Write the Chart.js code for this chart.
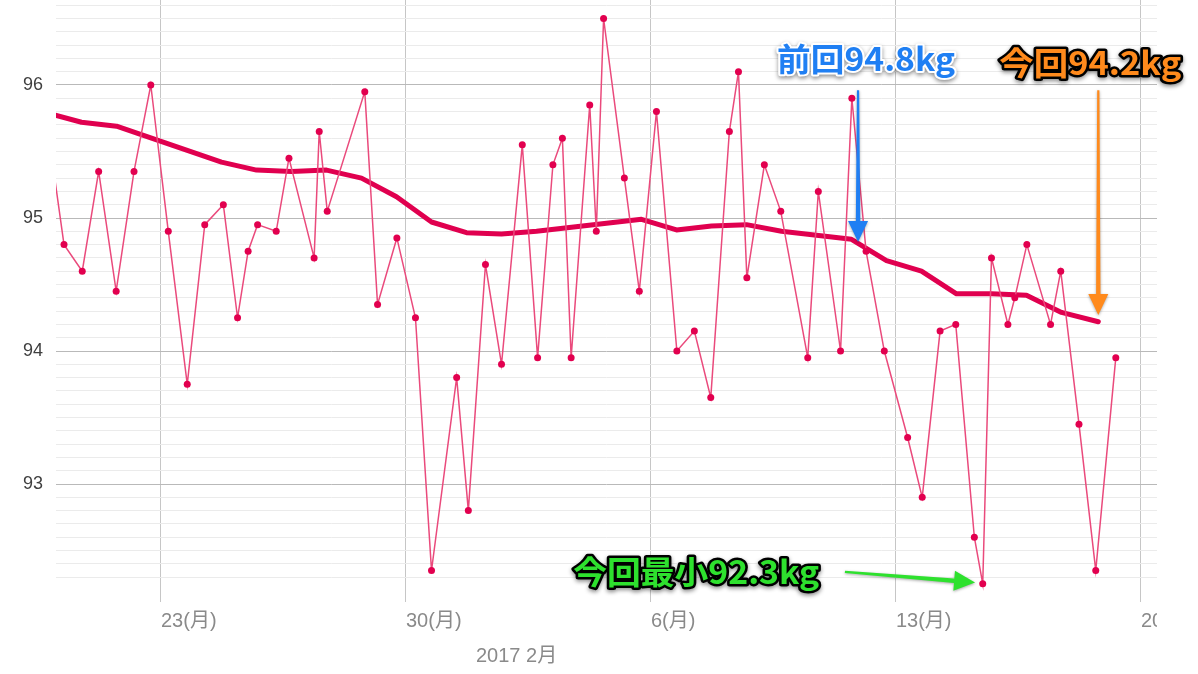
<!DOCTYPE html>
<html lang="ja">
<head>
<meta charset="utf-8">
<title>体重グラフ</title>
<script src="https://cdn.jsdelivr.net/npm/chart.js@4.4.1/dist/chart.umd.min.js"></script>
<style>
  html, body { margin: 0; padding: 0; background: #fff; }
  #holder { display: block; }
</style>
</head>
<body>
<canvas id="holder" width="1198" height="674"></canvas>
<script>
"use strict";

// weigh-ins (M/D HH:MM) and weight in kg
const readingTimes = [
  "1/19 18:00", "1/20 05:30", "1/20 18:00", "1/21 05:15", "1/21 17:15", "1/22 05:30", "1/22 17:00",
  "1/23 05:00", "1/23 18:00", "1/24 06:00", "1/24 18:45", "1/25 04:30", "1/25 11:45", "1/25 18:15",
  "1/26 07:00", "1/26 15:45", "1/27 09:00", "1/27 12:30", "1/27 18:00", "1/28 19:45", "1/29 04:30",
  "1/29 17:45", "1/30 06:30", "1/30 17:30", "1/31 10:45", "1/31 18:45", "2/1 06:30", "2/1 17:30",
  "2/2 07:45", "2/2 18:15", "2/3 04:45", "2/3 11:15", "2/3 17:15", "2/4 06:00", "2/4 10:30",
  "2/4 15:30", "2/5 05:45", "2/5 16:00", "2/6 03:45", "2/6 17:45", "2/7 05:45", "2/7 17:00",
  "2/8 05:45", "2/8 12:00", "2/8 17:45", "2/9 05:45", "2/9 17:00", "2/10 11:30", "2/10 18:45",
  "2/11 10:00", "2/11 17:45", "2/12 03:30", "2/12 16:00", "2/13 08:00", "2/13 18:00", "2/14 06:15",
  "2/14 17:00", "2/15 05:45", "2/15 11:30", "2/15 17:30", "2/16 04:45", "2/16 09:30", "2/16 17:45",
  "2/17 10:00", "2/17 17:00", "2/18 05:30", "2/18 17:00", "2/19 06:45"
];
const readingKg = [
  95.70, 94.80, 94.60, 95.35, 94.45, 95.35, 96.00,
  94.90, 93.75, 94.95, 95.10, 94.25, 94.75, 94.95,
  94.90, 95.45, 94.70, 95.65, 95.05, 95.95, 94.35,
  94.85, 94.25, 92.35, 93.80, 92.80, 94.65, 93.90,
  95.55, 93.95, 95.40, 95.60, 93.95, 95.85, 94.90,
  96.50, 95.30, 94.45, 95.80, 94.00, 94.15, 93.65,
  95.65, 96.10, 94.55, 95.40, 95.05, 93.95, 95.20,
  94.00, 95.90, 94.75, 94.00, 93.35, 92.90, 94.15,
  94.20, 92.60, 92.25, 94.70, 94.20, 94.40, 94.80,
  94.20, 94.60, 93.45, 92.35, 93.95
];

// smoothed trend, one value per evening
const trendTimes = [
  "1/19 17:30", "1/20 17:30", "1/21 17:30", "1/22 17:30", "1/23 17:30", "1/24 17:30", "1/25 17:30",
  "1/26 17:30", "1/27 17:30", "1/28 17:30", "1/29 17:30", "1/30 17:30", "1/31 17:30", "2/1 17:30",
  "2/2 17:30", "2/3 17:30", "2/4 17:30", "2/5 17:30", "2/6 17:30", "2/7 17:30", "2/8 17:30",
  "2/9 17:30", "2/10 17:30", "2/11 17:30", "2/12 17:30", "2/13 17:30", "2/14 17:30", "2/15 17:30",
  "2/16 17:30", "2/17 17:30", "2/18 18:45"
];
const trendKg = [
  95.79, 95.72, 95.69, 95.60, 95.51, 95.42, 95.36,
  95.35, 95.36, 95.30, 95.16, 94.97, 94.89, 94.88,
  94.90, 94.93, 94.96, 94.99, 94.91, 94.94, 94.95,
  94.90, 94.87, 94.84, 94.68, 94.60, 94.43, 94.43,
  94.42, 94.29, 94.22
];

// x axis ticks (Mondays + month start)
const xTickTimes = ["1/23 00:00", "1/30 00:00", "2/1 00:00", "2/6 00:00", "2/13 00:00", "2/20 00:00"];
const xTickLabels = ["23(月)", "30(月)", ["", "2017 2月"], "6(月)", "13(月)", "20(月)"];
const monthTickTime = "2/1 00:00";
const xRange = ["1/20 00:00", "2/20 11:00"];
const yRange = [92.113, 96.639];
const yGridFrom = 92.3;

// M/D HH:MM -> days since 1/20 00:00
function toDay(s) {
  const [md, hm] = s.split(" ");
  const [m, d] = md.split("/").map(Number);
  const [h, mi] = hm.split(":").map(Number);
  return (Date.UTC(2017, m - 1, d, h, mi) - Date.UTC(2017, 0, 20)) / 864e5;
}

const readings = readingTimes.map((t, i) => ({ x: toDay(t), y: readingKg[i] }));
const trend = trendTimes.map((t, i) => ({ x: toDay(t), y: trendKg[i] }));
const monthDay = toDay(monthTickTime);

const LABEL_FONT = "'Liberation Sans', 'Noto Sans CJK JP', sans-serif";
const NOTE_FONT = "'Noto Sans CJK JP', sans-serif";

/**
 * Arrow with a tapering shaft
 */
function drawArrow(ctx, x1, y1, x2, y2, color) {
  const len = Math.hypot(x2 - x1, y2 - y1);
  const headLen = 21, headW = 20;
  ctx.save();
  ctx.translate(x2, y2);
  ctx.rotate(Math.atan2(y2 - y1, x2 - x1));
  ctx.shadowColor = "rgba(0,0,0,0.35)";
  ctx.shadowBlur = 3;
  ctx.shadowOffsetY = 1;
  ctx.fillStyle = color;
  ctx.beginPath();
  ctx.moveTo(0, 0);
  ctx.lineTo(-headLen, -headW / 2);
  ctx.lineTo(-headLen, -2.2);
  ctx.lineTo(-len, -1.1);
  ctx.lineTo(-len, 1.1);
  ctx.lineTo(-headLen, 2.2);
  ctx.lineTo(-headLen, headW / 2);
  ctx.closePath();
  ctx.fill();
  ctx.restore();
}

/**
 * Outlined caption, squeezed/stretched to a given width
 */
function drawNote(ctx, text, cx, cy, width, fill, outline, outlineW) {
  ctx.save();
  ctx.font = "bold 32px " + NOTE_FONT;
  ctx.textAlign = "center";
  ctx.textBaseline = "middle";
  const w = ctx.measureText(text).width;
  ctx.translate(cx, cy);
  ctx.scale(width / w, 1);
  ctx.lineJoin = "round";
  ctx.lineWidth = outlineW;
  ctx.strokeStyle = outline;
  ctx.shadowColor = "rgba(0,0,0,0.45)";
  ctx.shadowBlur = 4;
  ctx.shadowOffsetY = 2;
  ctx.strokeText(text, 0, 0);
  ctx.shadowColor = "transparent";
  ctx.fillStyle = fill;
  ctx.fillText(text, 0, 0);
  ctx.restore();
}

const notesPlugin = {
  id: "notes",
  afterDraw(chart) {
    const { ctx, chartArea, scales: { x, y } } = chart;
    // the last day label is cut at the plot edge
    ctx.clearRect(chartArea.right, chartArea.bottom, chart.width - chartArea.right, chart.height - chartArea.bottom);

    // previous
    const bx = x.getPixelForValue(toDay("2/11 22:00"));
    drawArrow(ctx, bx, y.getPixelForValue(95.96), bx, y.getPixelForValue(94.82), "#1f7ff3");
    drawNote(ctx, "前回94.8kg", bx + 8, y.getPixelForValue(96.2), 178, "#1f7ff3", "#ffffff", 4);

    // latest
    const ox = x.getPixelForValue(toDay("2/18 18:45"));
    drawArrow(ctx, ox, y.getPixelForValue(95.96), ox, y.getPixelForValue(94.27), "#ff8a1c");
    drawNote(ctx, "今回94.2kg", ox - 8, y.getPixelForValue(96.17), 182, "#ff8a1c", "#000000", 5);

    // minimum
    drawArrow(ctx,
      x.getPixelForValue(toDay("2/11 13:00")), y.getPixelForValue(92.34),
      x.getPixelForValue(toDay("2/15 06:15")), y.getPixelForValue(92.26), "#2ee12e");
    drawNote(ctx, "今回最小92.3kg", x.getPixelForValue(toDay("2/7 07:00")), y.getPixelForValue(92.34),
      246, "#2ee12e", "#000000", 5);
  }
};

const HOLDER = document.getElementById("holder");
new Chart(HOLDER, {
  type: "line",
  data: {
    datasets: [
      {
        label: "体重",
        data: readings,
        order: 0,
        borderColor: "#ea4a7c",
        borderWidth: 1.5,
        pointRadius: 3.5,
        pointBackgroundColor: "#e2004f",
        pointBorderWidth: 0,
        tension: 0,
      },
      {
        label: "トレンド",
        data: trend,
        order: 1,
        borderColor: "#e0004f",
        borderWidth: 5,
        borderJoinStyle: "round",
        borderCapStyle: "round",
        pointRadius: 0,
        tension: 0,
      },
    ],
  },
  options: {
    responsive: false,
    animation: false,
    layout: { autoPadding: false, padding: { left: 0, top: 0, bottom: 0, right: 41 } },
    plugins: {
      legend: { display: false },
      tooltip: { enabled: false },
    },
    scales: {
      x: {
        type: "linear",
        min: toDay(xRange[0]),
        max: toDay(xRange[1]),
        border: { display: false },
        grid: {
          color: (c) => (c.tick && Math.abs(c.tick.value - monthDay) < 1e-6 ? "rgba(0,0,0,0)" : "#c6c6c6"),
          lineWidth: 1,
          drawTicks: false,
        },
        afterBuildTicks: (scale) => {
          scale.ticks = xTickTimes.map((t) => ({ value: toDay(t) }));
        },
        afterFit: (scale) => {
          scale.paddingLeft = 0;
          scale.paddingRight = 0;
          scale.height = 72;
        },
        ticks: {
          autoSkip: false,
          maxRotation: 0,
          minRotation: 0,
          align: "start",
          padding: 2,
          color: "#8a8a8a",
          font: { family: LABEL_FONT, size: 20, lineHeight: 1.75 },
          callback: (v, i) => xTickLabels[i],
        },
      },
      y: {
        min: yRange[0],
        max: yRange[1],
        border: { display: false },
        grid: {
          color: (c) => {
            const v = c.tick ? c.tick.value : 0;
            if (v < yGridFrom - 0.05) return "rgba(0,0,0,0)";
            return Math.abs(v - Math.round(v)) < 1e-6 ? "#b9b9b9" : "#ebebeb";
          },
          lineWidth: 1,
          drawTicks: false,
        },
        afterBuildTicks: (scale) => {
          const ticks = [];
          for (let k = Math.round(yGridFrom * 10); k <= Math.floor(yRange[1] * 10); k++) {
            ticks.push({ value: k / 10 });
          }
          scale.ticks = ticks;
        },
        afterFit: (scale) => {
          scale.width = 56;
          scale.paddingTop = 0;
          scale.paddingBottom = 0;
        },
        ticks: {
          autoSkip: false,
          padding: 13,
          color: "#3f3f3f",
          font: { family: LABEL_FONT, size: 18 },
          callback: (v) => (Math.abs(v - Math.round(v)) < 1e-6 ? String(Math.round(v)) : ""),
        },
      },
    },
  },
  plugins: [notesPlugin],
});
</script>
</body>
</html>
